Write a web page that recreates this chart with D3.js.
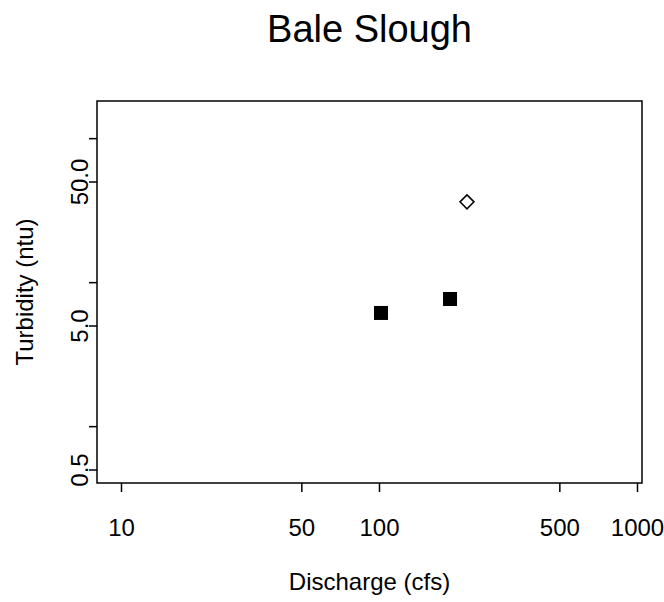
<!DOCTYPE html>
<html>
<head>
<meta charset="utf-8">
<script src="https://cdn.jsdelivr.net/npm/d3@7"></script>
<style>
  body { margin: 0; background: #fff; }
  text { font-family: "Liberation Sans", Arial, sans-serif; fill: #000; }
</style>
</head>
<body>
<div id="chart"></div>
<script>
// data
const discharge = [101.8, 188.5];        // filled squares
const turbidity = [6.11, 7.64];
const openDischarge = [219.3];           // open diamond
const openTurbidity = [36.1];

const xTicks = [10, 50, 100, 500, 1000];
const xTickLabels = ["10", "50", "100", "500", "1000"];
const yTicks = [0.5, 1, 5, 10, 50, 100];
const yTickLabels = ["0.5", "", "5.0", "", "50.0", ""];

const width = 664, height = 602;
const box = { left: 97, right: 642, top: 101, bottom: 483 };

const svg = d3
  .select("#chart")
  .append("svg")
  .attr("width", width)
  .attr("height", height);

// log scales, tick positions fitted to the reference
const x = d3.scaleLog().domain([10, 1000]).range([121, 637]);
const y = d3.scaleLog().domain([0.5, 50]).range([469.5, 181.5]);

// plot frame
svg
  .append("rect")
  .attr("x", box.left)
  .attr("y", box.top)
  .attr("width", box.right - box.left)
  .attr("height", box.bottom - box.top)
  .attr("fill", "none")
  .attr("stroke", "#000")
  .attr("stroke-width", 1.5);

// x axis
const xAxis = svg
  .append("g")
  .attr("transform", `translate(0,${box.bottom})`)
  .call(
    d3.axisBottom(x)
      .tickValues(xTicks)
      .tickFormat((d, i) => xTickLabels[i])
      .tickSize(9)
      .tickPadding(0)
  );
xAxis.select(".domain").remove();
xAxis.selectAll(".tick line").attr("stroke-width", 1.5);
xAxis
  .selectAll("text")
  .style("font-size", "24px")
  .attr("fill", "#000")
  .attr("dy", 0)
  .attr("y", 536 - box.bottom);

// y axis
const yAxis = svg
  .append("g")
  .attr("transform", `translate(${box.left},0)`)
  .call(
    d3.axisLeft(y)
      .tickValues(yTicks)
      .tickFormat((d, i) => yTickLabels[i])
      .tickSize(8)
      .tickPadding(0)
  );
yAxis.select(".domain").remove();
yAxis.selectAll(".tick line").attr("stroke-width", 1.5);
yAxis
  .selectAll("text")
  .style("font-size", "24px")
  .attr("fill", "#000")
  .attr("x", 0)
  .attr("dy", 0)
  .attr("text-anchor", "middle")
  .attr("transform", `translate(${88 - box.left},0) rotate(-90)`);

// filled squares
const sq = 14;
svg
  .append("g")
  .selectAll("rect")
  .data(discharge.map((d, i) => [d, turbidity[i]]))
  .join("rect")
  .attr("x", (d) => x(d[0]) - sq / 2)
  .attr("y", (d) => y(d[1]) - sq / 2)
  .attr("width", sq)
  .attr("height", sq)
  .attr("fill", "#000");

// open diamond
const r = 7;
svg
  .append("g")
  .selectAll("path")
  .data(openDischarge.map((d, i) => [d, openTurbidity[i]]))
  .join("path")
  .attr("d", (d) => {
    const cx = x(d[0]), cy = y(d[1]);
    return `M${cx},${cy - r}L${cx + r},${cy}L${cx},${cy + r}L${cx - r},${cy}Z`;
  })
  .attr("fill", "none")
  .attr("stroke", "#000")
  .attr("stroke-width", 1.5);

// titles
svg
  .append("text")
  .attr("x", (box.left + box.right) / 2)
  .attr("y", 42)
  .attr("text-anchor", "middle")
  .style("font-size", "38px")
  .text("Bale Slough");

svg
  .append("text")
  .attr("x", (box.left + box.right) / 2)
  .attr("y", 590)
  .attr("text-anchor", "middle")
  .style("font-size", "24px")
  .text("Discharge (cfs)");

svg
  .append("text")
  .attr("transform", `translate(33,${(box.top + box.bottom) / 2}) rotate(-90)`)
  .attr("text-anchor", "middle")
  .style("font-size", "24px")
  .text("Turbidity (ntu)");
</script>
</body>
</html>
